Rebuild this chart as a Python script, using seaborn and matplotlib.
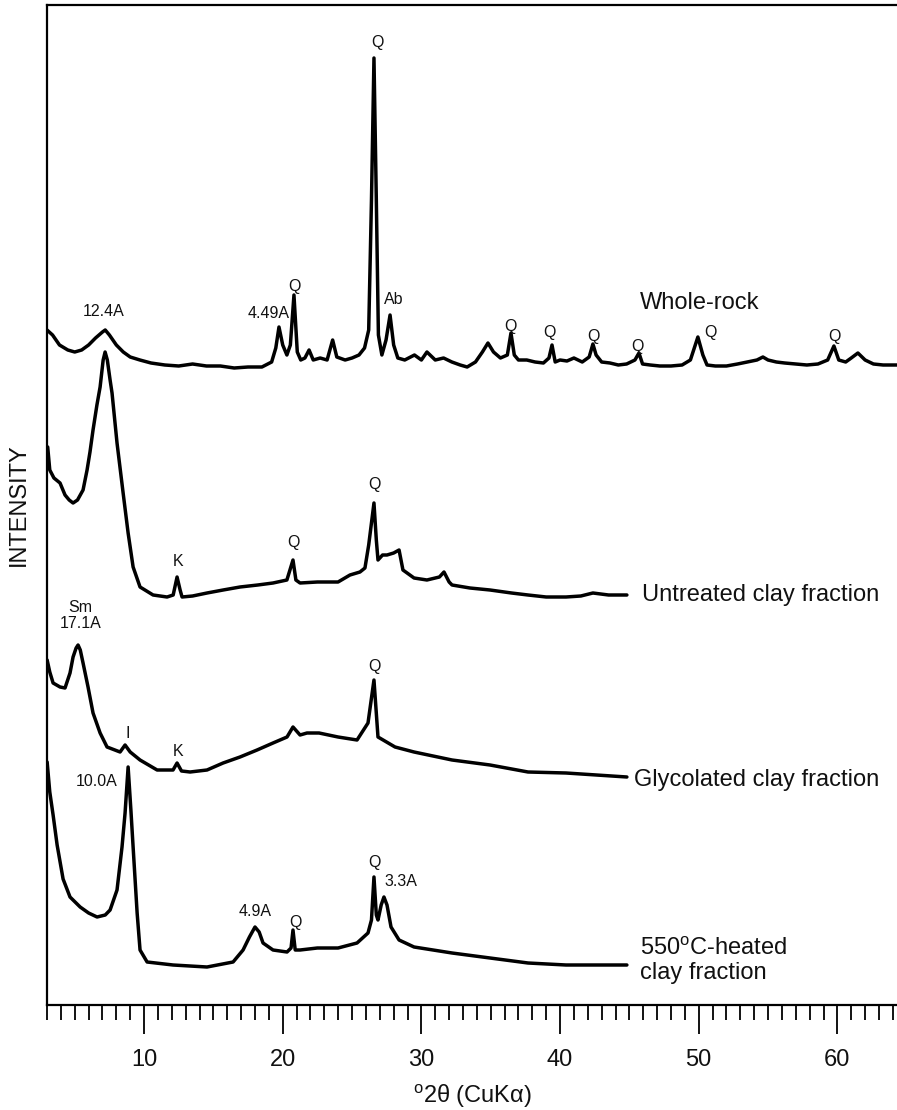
import numpy as np
import pandas as pd
import matplotlib
matplotlib.use("Agg")
import matplotlib.pyplot as plt
import seaborn as sns
from matplotlib.ticker import MultipleLocator

sns.set_theme(style="ticks")
plt.rcParams['font.family'] = ['Liberation Sans', 'DejaVu Sans']
plt.rcParams['mathtext.fontset'] = 'custom'
plt.rcParams['mathtext.rm'] = 'Liberation Sans'
plt.rcParams['mathtext.it'] = 'Liberation Sans:italic'

# ---------------- data (degrees 2-theta, relative intensity) ----------------
wr_2theta = [3.0, 3.4, 3.9, 4.5, 5.0, 5.5, 6.0, 6.5, 7.0, 7.2, 7.5, 8.0, 8.5, 9.0, 9.7,
             10.5, 11.5, 12.5, 13.5, 14.5, 15.5, 16.5, 17.5, 18.5, 19.2, 19.5, 19.73,
             20.0, 20.3, 20.55, 20.81, 21.05, 21.3, 21.6, 21.9, 22.2, 22.7, 23.2, 23.6,
             23.9, 24.5, 25.0, 25.5, 25.9, 26.2, 26.4, 26.58, 26.75, 26.9, 27.15, 27.45,
             27.74, 28.0, 28.3, 28.8, 29.5, 30.0, 30.4, 31.0, 31.6, 32.2, 32.8, 33.3,
             33.9, 34.4, 34.8, 35.2, 35.7, 36.2, 36.46, 36.7, 37.0, 37.6, 38.2, 38.8,
             39.2, 39.42, 39.65, 40.0, 40.5, 41.0, 41.6, 42.1, 42.37, 42.6, 43.0, 43.6,
             44.2, 44.8, 45.4, 45.69, 45.95, 46.5, 47.2, 48.0, 48.8, 49.4, 49.94, 50.3,
             50.6, 51.2, 52.0, 52.8, 53.5, 54.2, 54.63, 55.0, 55.6, 56.2, 57.0, 57.8,
             58.6, 59.3, 59.75, 60.1, 60.6, 61.0, 61.48, 62.0, 62.6, 63.3, 64.29]
wr_intensity = [35, 30, 20, 15, 13, 15, 20, 27, 33, 35, 30, 20, 13, 8, 5,
                2, 0, -1, 1, -1, -1, -3, -2, -2, 3, 17, 38,
                20, 10, 20, 70, 13, 5, 7, 15, 5, 7, 5, 25,
                8, 5, 7, 10, 17, 35, 165, 307, 165, 30, 10, 25,
                50, 20, 7, 5, 10, 5, 13, 5, 7, 3, 0, -2,
                3, 13, 22, 13, 7, 10, 32, 10, 5, 5, 3, 2,
                7, 20, 3, 5, 4, 7, 3, 8, 21, 10, 3, 2,
                0, 1, 5, 12, 1, 0, -1, -1, 0, 5, 28, 10,
                0, -1, -1, 1, 3, 5, 8, 5, 3, 2, 1, 0,
                1, 5, 19, 5, 3, 7, 12, 5, 1, 0, 0]

uc_2theta = [3.05, 3.2, 3.5, 3.94, 4.3, 4.6, 4.88, 5.2, 5.6, 5.89, 6.1, 6.32, 6.6, 6.83,
             7.05, 7.19, 7.35, 7.55, 7.69, 8.05, 8.49, 8.85, 9.21, 9.71, 10.65, 11.66,
             12.1, 12.38, 12.6, 12.74, 13.5, 14.54, 15.7, 16.92, 18.2, 19.3, 20.3, 20.74,
             20.95, 21.25, 22.5, 23.99, 24.85, 25.57, 25.93, 26.2, 26.58, 26.75, 26.87,
             27.2, 27.52, 28.0, 28.39, 28.67, 29.47, 30.4, 31.3, 31.63, 32.0, 32.21, 33.5,
             34.95, 36.5, 37.69, 39.0, 40.43, 41.5, 42.37, 43.5, 44.82]
uc_intensity = [150, 127, 119, 114, 102, 97, 94, 97, 107, 127, 145, 167, 192, 210,
                237, 245, 237, 217, 204, 154, 104, 64, 30, 10, 2, 0,
                2, 20, 7, 0, 1, 4, 7, 10, 12, 14, 17, 37,
                17, 14, 15, 15, 22, 25, 29, 52, 94, 57, 37,
                42, 42, 44, 47, 27, 19, 17, 20, 25, 15, 12, 9,
                7, 4, 2, 0, 0, 1, 4, 2, 2]

gc_2theta = [3.01, 3.2, 3.44, 3.94, 4.3, 4.66, 4.88, 5.1, 5.24, 5.4, 5.6, 5.96, 6.32,
             6.83, 7.33, 8.27, 8.63, 9.0, 9.71, 10.94, 12.09, 12.38, 12.7, 13.32, 14.54,
             15.7, 16.92, 18.15, 19.3, 20.31, 20.74, 21.25, 21.75, 22.62, 23.99, 25.36,
             26.15, 26.58, 26.87, 28.1, 29.47, 32.21, 34.95, 37.69, 40.43, 44.82]
gc_intensity = [117, 105, 94, 90, 89, 104, 120, 129, 132, 127, 114, 90, 64,
                44, 30, 25, 32, 25, 17, 7, 7, 14, 6, 5, 7,
                14, 20, 27, 34, 40, 50, 42, 44, 44, 40, 37,
                54, 97, 40, 30, 25, 17, 12, 5, 4, 0]

hc_2theta = [3.01, 3.2, 3.44, 3.73, 4.16, 4.66, 5.39, 6.0, 6.61, 7.2, 7.55, 8.05, 8.41,
             8.63, 8.85, 9.05, 9.21, 9.5, 9.71, 10.22, 12.09, 14.54, 16.42, 17.14, 17.6,
             18.0, 18.3, 18.58, 19.3, 20.31, 20.6, 20.74, 20.9, 21.25, 22.5, 23.99, 25.36,
             26.15, 26.4, 26.58, 26.75, 26.87, 27.1, 27.3, 27.52, 27.81, 28.39, 29.47,
             32.21, 34.95, 37.69, 40.43, 44.82]
hc_intensity = [205, 175, 152, 122, 88, 70, 60, 54, 50, 52, 57, 77, 120,
                154, 200, 157, 120, 54, 17, 5, 2, 0, 5, 17, 30,
                40, 35, 24, 17, 15, 19, 37, 17, 17, 19, 19, 24,
                34, 47, 90, 52, 47, 62, 70, 62, 40, 27, 20,
                14, 9, 4, 2, 2]

pattern_names = ["Whole-rock", "Untreated clay fraction", "Glycolated clay fraction",
                 "550$^{\\mathrm{o}}$C-heated\nclay fraction"]
pattern_offsets = [640, 408, 228, 38]

# peak labels: (2theta, stacked height, text)
peak_labels = [
    (7.05, 694, "12.4A"), (19.0, 691, "4.49A"), (20.82, 719, "Q"), (26.8, 963, "Q"),
    (28.02, 706, "Ab"), (36.39, 678, "Q"), (39.2, 672, "Q"), (42.44, 668, "Q"),
    (45.6, 659, "Q"), (50.81, 673, "Q"), (59.82, 669, "Q"),
    (12.45, 443, "K"), (20.74, 462, "Q"), (26.58, 520, "Q"),
    (5.39, 398, "Sm"), (5.39, 381, "17.1A"), (8.85, 272, "I"), (12.45, 253, "K"),
    (26.65, 338, "Q"),
    (6.61, 223, "10.0A"), (18.0, 93, "4.9A"), (20.89, 82, "Q"), (26.58, 142, "Q"),
    (28.53, 123, "3.3A"),
]
name_pos = [(45.76, 702), (45.9, 410), (45.3, 225), (45.76, 44)]

# ---------------- figure ----------------
fig = plt.figure(figsize=(8.97, 11.10), dpi=100)
ax = fig.add_axes([47 / 897, 1 - 1005 / 1110, 850 / 897, 1000 / 1110])

series = [(wr_2theta, wr_intensity), (uc_2theta, uc_intensity),
          (gc_2theta, gc_intensity), (hc_2theta, hc_intensity)]
for (tt, inten), off in zip(series, pattern_offsets):
    df = pd.DataFrame({"two_theta": tt, "intensity": np.asarray(inten, float) + off})
    sns.lineplot(data=df, x="two_theta", y="intensity", ax=ax, color="black",
                 linewidth=2.5, estimator=None, sort=False)

for x, y, s in peak_labels:
    ax.text(x, y, s, ha="center", va="center", fontsize=11.5, color="#111111")

for (x, y), s in zip(name_pos, pattern_names):
    ax.text(x, y, s, ha="left", va="center", fontsize=17, color="#111111",
            linespacing=1.1)

ax.set_xlim(3.0, 64.3)
ax.set_ylim(0, 1000)
ax.xaxis.set_major_locator(MultipleLocator(10))
ax.xaxis.set_minor_locator(MultipleLocator(1))
ax.tick_params(axis="x", which="major", length=21, width=1.3, direction="out",
               pad=11, labelsize=17, color="black", labelcolor="#111111")
ax.tick_params(axis="x", which="minor", length=11, width=1.3, direction="out",
               color="black")
ax.set_yticks([])
for side in ["left", "bottom", "top"]:
    ax.spines[side].set_linewidth(1.6)
    ax.spines[side].set_color("black")
ax.spines["right"].set_visible(False)

ax.set_xlabel("$^{\\mathrm{o}}$2θ (CuKα)", fontsize=17, color="#111111")
ax.xaxis.set_label_coords(0.5, -0.078)
ax.set_ylabel("INTENSITY", fontsize=17, color="#111111")
ax.yaxis.set_label_coords(-0.02, 0.5)

fig.savefig("out.png", dpi=100)
